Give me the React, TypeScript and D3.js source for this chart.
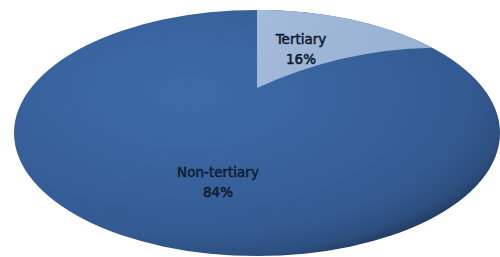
import React, { useEffect, useRef } from 'react';
import * as d3 from 'd3';

// chart data
const categories = ['Tertiary', 'Non-tertiary'];
const shares = [16, 84];
const labels = ['16%', '84%'];

export default function App() {
  const svgRef = useRef<SVGSVGElement>(null);

  useEffect(() => {
    if (!svgRef.current) return;
    const width = 500;
    const height = 257;

    // outer outline of the tilted pie (top face + side)
    const outer = { cx: 257, cy: 133, rx: 243, ry: 123 };
    // projected pie centre (apex of the slices) and its top-face radii
    const apex = { x: 257, y: 88 };
    const face = { rx: 243, ry: 88 };

    const svg = d3.select(svgRef.current)
      .attr('width', width)
      .attr('height', height);
    svg.selectAll('*').remove();

    const defs = svg.append('defs');
    const rg = defs.append('radialGradient')
      .attr('id', 'gNon')
      .attr('cx', 0.36).attr('cy', 0.34).attr('r', 0.74);
    [
      [0, '#3c6ba8'], [0.5, '#38619b'], [0.78, '#335a91'],
      [0.9, '#2d4f80'], [0.97, '#223c62'], [1, '#1a2e4c'],
    ].forEach(([o, c]) => rg.append('stop').attr('offset', o as number).attr('stop-color', c as string));

    const lg = defs.append('linearGradient')
      .attr('id', 'gTer').attr('x1', 0).attr('x2', 1).attr('y1', 0).attr('y2', 0.3);
    lg.append('stop').attr('offset', 0).attr('stop-color', '#a4bbda');
    lg.append('stop').attr('offset', 1).attr('stop-color', '#98b0d2');

    const pie = d3.pie<number>().sort(null).value(d => d);
    const arcs = pie(shares);

    // map a pie angle to the point where its ray hits the outer outline
    const edgePoint = (a: number) => {
      const dx = face.rx * Math.sin(a);
      const dy = -face.ry * Math.cos(a);
      const ox = apex.x - outer.cx;
      const oy = apex.y - outer.cy;
      const A = (dx / outer.rx) ** 2 + (dy / outer.ry) ** 2;
      const B = 2 * (ox * dx / outer.rx ** 2 + oy * dy / outer.ry ** 2);
      const C = (ox / outer.rx) ** 2 + (oy / outer.ry) ** 2 - 1;
      const t = (-B + Math.sqrt(B * B - 4 * A * C)) / (2 * A);
      return [apex.x + dx * t, apex.y + dy * t];
    };

    // Non-tertiary: the whole disc, the Tertiary wedge sits on top
    svg.append('ellipse')
      .attr('cx', outer.cx).attr('cy', outer.cy)
      .attr('rx', outer.rx).attr('ry', outer.ry)
      .attr('fill', 'url(#gNon)');

    const ter = arcs[0];
    const p0 = edgePoint(ter.startAngle);
    const p1 = edgePoint(ter.endAngle);
    const len = Math.hypot(p1[0] - apex.x, p1[1] - apex.y);
    const nx = (p1[1] - apex.y) / len;
    const ny = -(p1[0] - apex.x) / len;
    const bend = 0.105 * len;
    const ctrl = [(apex.x + p1[0]) / 2 + nx * bend, (apex.y + p1[1]) / 2 + ny * bend];

    const path = d3.path();
    path.moveTo(apex.x, apex.y);
    path.lineTo(p0[0], p0[1]);
    // follow outer ellipse from p0 to p1 (clockwise)
    const steps = 40;
    const ang0 = Math.atan2((p0[1] - outer.cy) / outer.ry, (p0[0] - outer.cx) / outer.rx);
    const ang1 = Math.atan2((p1[1] - outer.cy) / outer.ry, (p1[0] - outer.cx) / outer.rx);
    for (let i = 1; i <= steps; i++) {
      const a = ang0 + (ang1 - ang0) * (i / steps);
      path.lineTo(outer.cx + outer.rx * Math.cos(a), outer.cy + outer.ry * Math.sin(a));
    }
    path.quadraticCurveTo(ctrl[0], ctrl[1], apex.x, apex.y);
    path.closePath();

    svg.append('path')
      .attr('d', path.toString())
      .attr('fill', 'url(#gTer)');

    // data labels
    const labelPos = [
      { x: 301, y: 44 },
      { x: 218, y: 177 },
    ];
    categories.forEach((c, i) => {
      const t = svg.append('text')
        .attr('x', labelPos[i].x)
        .attr('y', labelPos[i].y)
        .attr('text-anchor', 'middle')
        .style('font-family', '"DejaVu Sans", sans-serif')
        .style('font-size', '13.5px')
        .style('fill', '#101d31')
        .style('stroke', '#101d31')
        .style('stroke-width', 0.55);
      t.append('tspan').attr('x', labelPos[i].x).text(c);
      t.append('tspan').attr('x', labelPos[i].x).attr('dy', 19.5).text(labels[i]);
    });
  }, []);

  return (
    <div style={{ position: 'fixed', left: 0, top: 0, width: 500, height: 257, background: '#fff', overflow: 'hidden' }}>
      <svg ref={svgRef} style={{ display: 'block' }} />
    </div>
  );
}
